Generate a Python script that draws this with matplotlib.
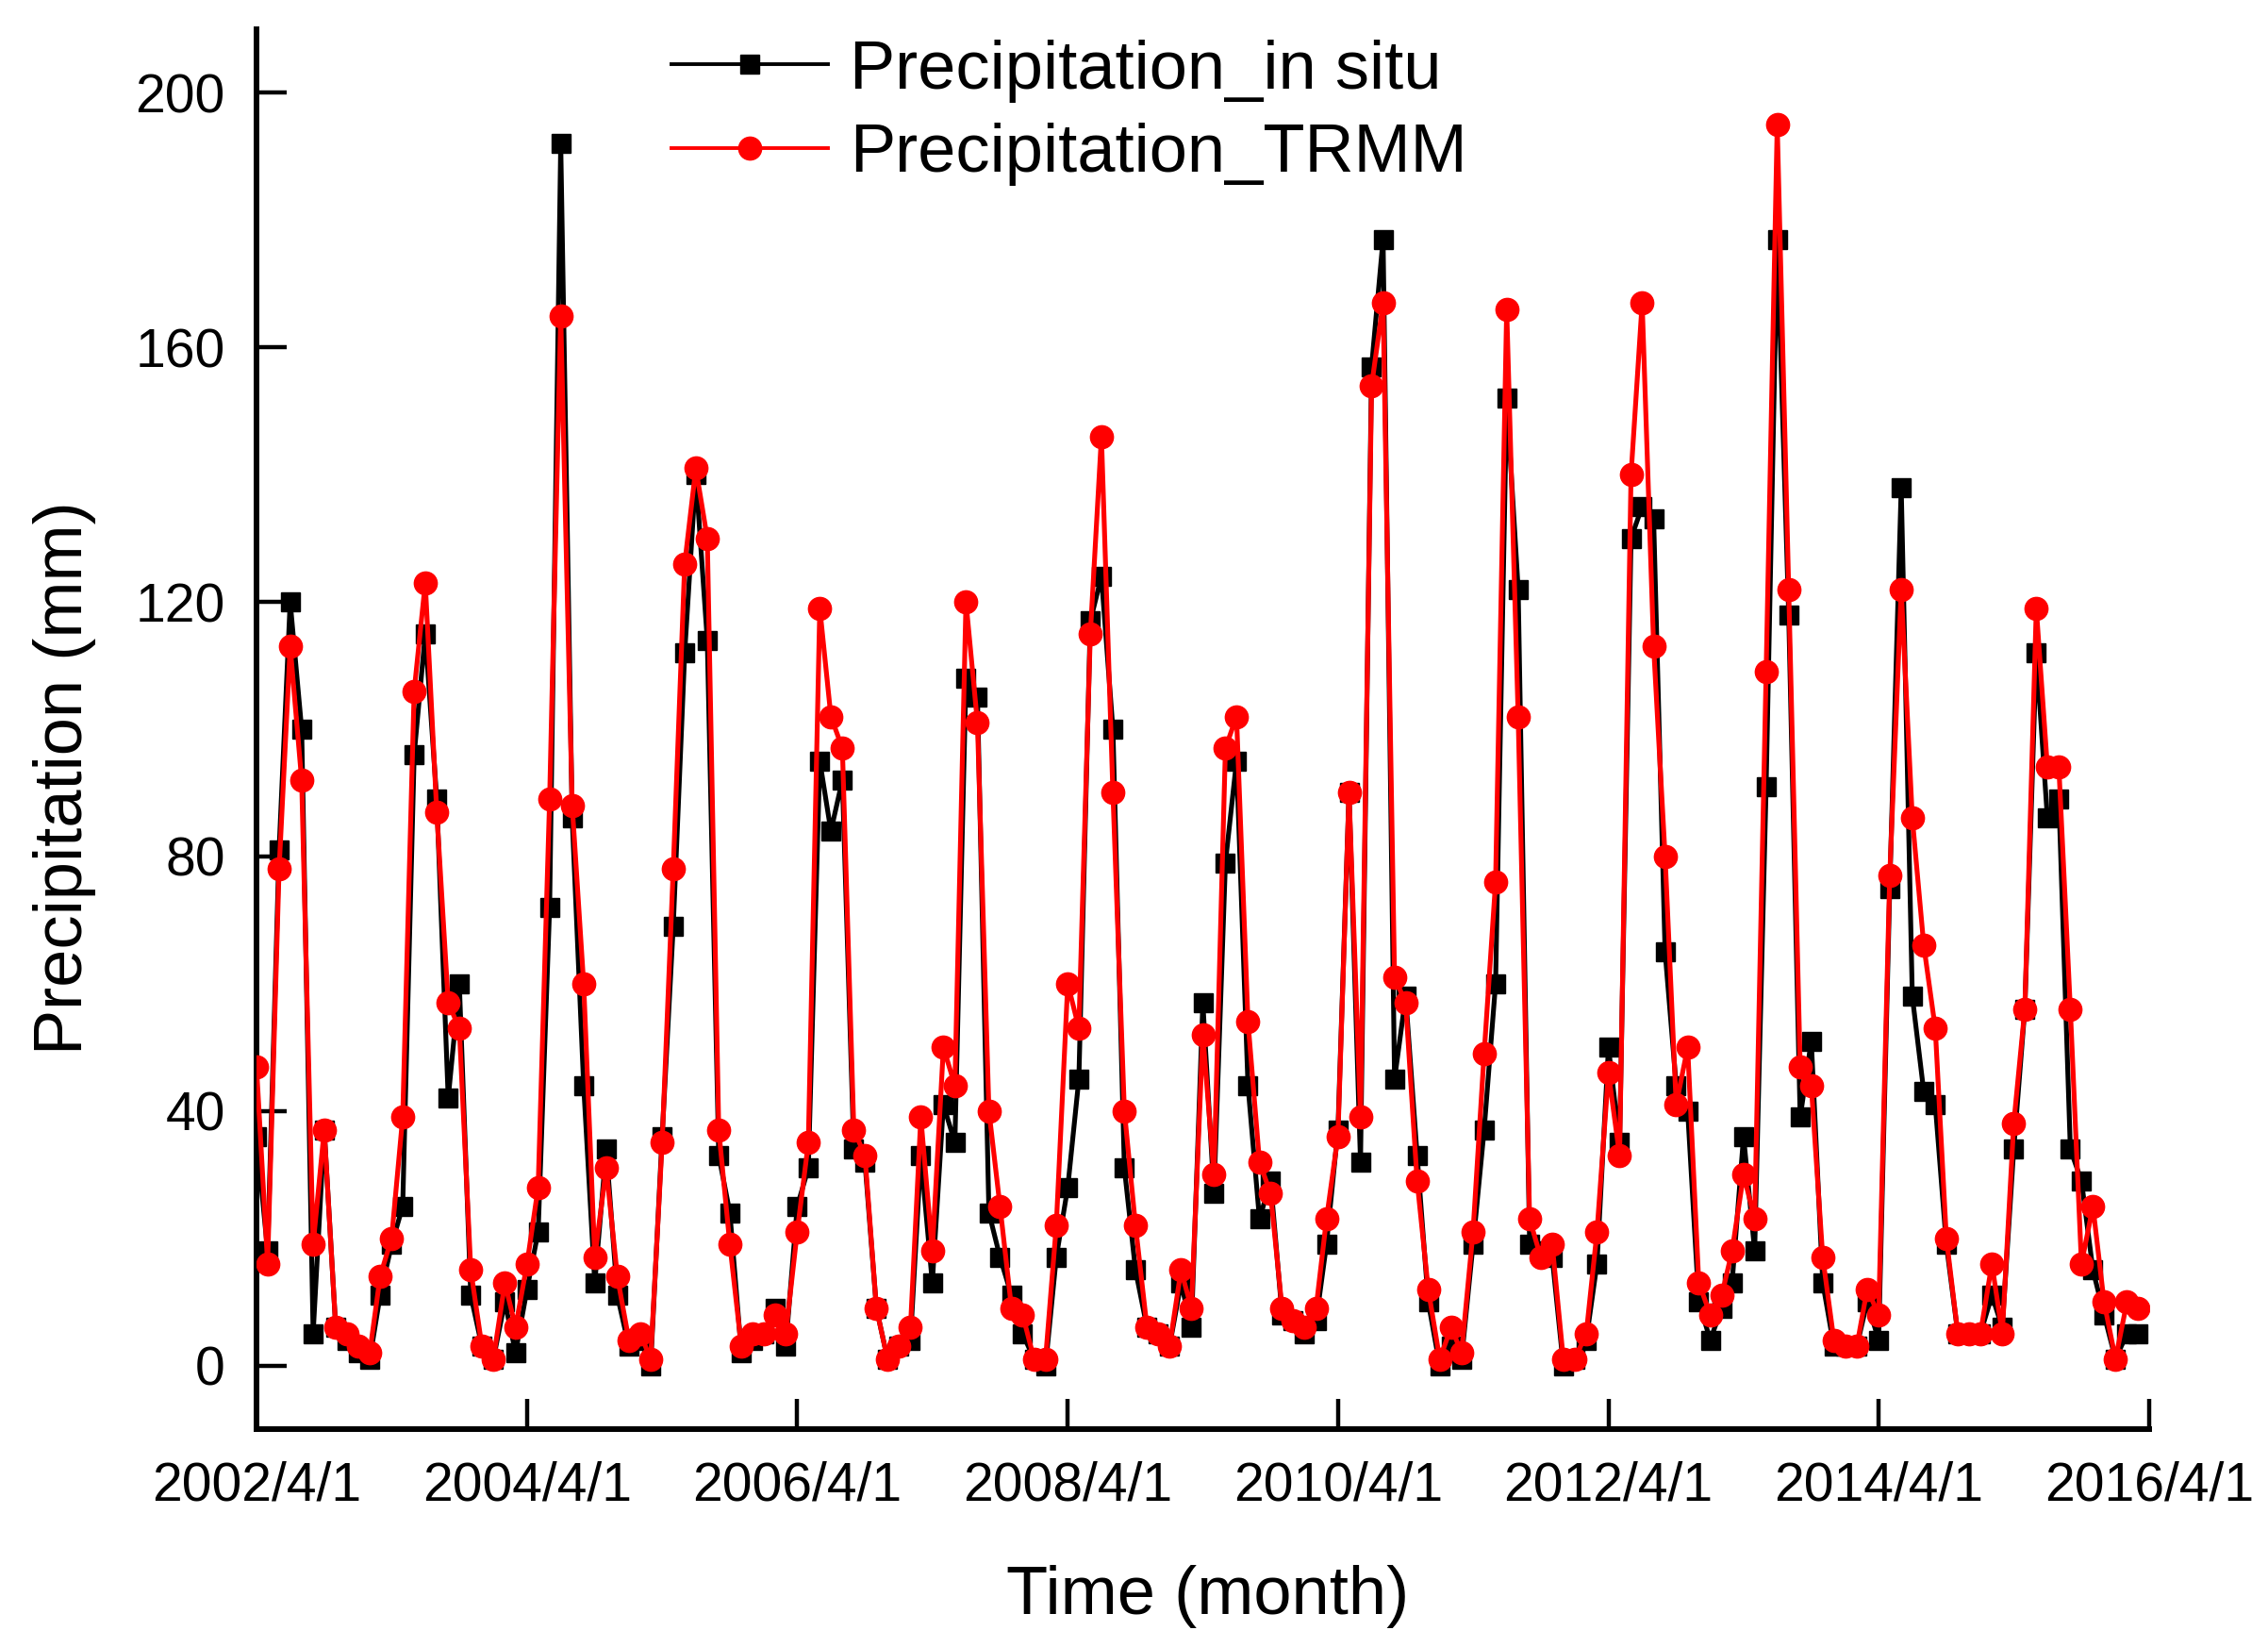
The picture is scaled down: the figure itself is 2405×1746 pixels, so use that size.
import matplotlib
matplotlib.use("Agg")
import matplotlib.pyplot as plt
import matplotlib.dates as mdates
import pandas as pd

plt.rcParams['font.family'] = ['Liberation Sans', 'DejaVu Sans']

# monthly dates, 2002/4 .. 2016/3
months = pd.date_range('2002-04-01', periods=168, freq='MS')

insitu = [
    36, 18, 81, 120, 100, 5, 37, 6, 4, 2, 1, 11,
    19, 25, 96, 115, 89, 42, 60, 11, 3, 1, 10, 2,
    12, 21, 72, 192, 86, 44, 13, 34, 11, 3, 4, 0,
    36, 69, 112, 140, 114, 33, 24, 2, 4, 5, 9, 3,
    25, 31, 95, 84, 92, 34, 32, 9, 1, 3, 4, 33,
    13, 41, 35, 108, 105, 24, 17, 11, 5, 1, 0, 17,
    28, 45, 117, 124, 100, 31, 15, 6, 5, 3, 13, 6,
    57, 27, 79, 95, 44, 23, 29, 8, 7, 5, 7, 19,
    37, 90, 32, 157, 177, 45, 58, 33, 10, 0, 3, 1,
    19, 37, 60, 152, 122, 19, 18, 17, 0, 1, 4, 16,
    50, 35, 130, 135, 133, 65, 44, 40, 10, 4, 9, 13,
    36, 18, 91, 177, 118, 39, 51, 13, 3, 3, 3, 10,
    4, 75, 138, 58, 43, 41, 19, 5, 5, 5, 11, 6,
    34, 56, 112, 86, 89, 34, 29, 15, 8, 1, 5, 5,
]

trmm = [
    47, 16, 78, 113, 92, 19, 37, 6, 5, 3, 2, 14,
    20, 39, 106, 123, 87, 57, 53, 15, 3, 1, 13, 6,
    16, 28, 89, 165, 88, 60, 17, 31, 14, 4, 5, 1,
    35, 78, 126, 141, 130, 37, 19, 3, 5, 5, 8, 5,
    21, 35, 119, 102, 97, 37, 33, 9, 1, 3, 6, 39,
    18, 50, 44, 120, 101, 40, 25, 9, 8, 1, 1, 22,
    60, 53, 115, 146, 90, 40, 22, 6, 5, 3, 15, 9,
    52, 30, 97, 102, 54, 32, 27, 9, 7, 6, 9, 23,
    36, 90, 39, 154, 167, 61, 57, 29, 12, 1, 6, 2,
    21, 49, 76, 166, 102, 23, 17, 19, 1, 1, 5, 21,
    46, 33, 140, 167, 113, 80, 41, 50, 13, 8, 11, 18,
    30, 23, 109, 195, 122, 47, 44, 17, 4, 3, 3, 12,
    8, 77, 122, 86, 66, 53, 20, 5, 5, 5, 16, 5,
    38, 56, 119, 94, 94, 56, 16, 25, 10, 1, 10, 9,
]

series_labels = ['Precipitation_in situ', 'Precipitation_TRMM']
yticks = [0, 40, 80, 120, 160, 200]
xtick_dates = pd.to_datetime(['2002-04-01', '2004-04-01', '2006-04-01', '2008-04-01',
                              '2010-04-01', '2012-04-01', '2014-04-01', '2016-04-01'])

W, H = 2405, 1746
fig = plt.figure(figsize=(W / 100, H / 100), dpi=100)
ax = fig.add_axes([272 / W, 1 - 1515 / H, (2279 - 272) / W, (1515 - 31) / H])

ax.plot(months, insitu, color='black', lw=3.7, marker='s', ms=15,
        mfc='black', mec='black', label=series_labels[0], zorder=3)
ax.plot(months, trmm, color='#ff0000', lw=3.7, marker='o', ms=17.5,
        mfc='#ff0000', mec='#ff0000', label=series_labels[1], zorder=4)

ax.set_xlim(pd.Timestamp('2002-04-01'), pd.Timestamp('2016-04-01'))
ax.set_ylim(-10, 210)
ax.set_yticks(yticks)
ax.set_xticks(xtick_dates)
ax.xaxis.set_major_formatter(plt.FuncFormatter(
    lambda v, p: (lambda d: f"{d.year}/{d.month}/{d.day}")(mdates.num2date(v))))

for s in ['top', 'right']:
    ax.spines[s].set_visible(False)
for s in ['left', 'bottom']:
    ax.spines[s].set_linewidth(4.3)

ax.tick_params(axis='both', direction='in', length=23, width=3.2, labelsize=41, pad=24)

fig.text(69 / W, 1 - 825 / H, 'Precipitation (mm)', rotation=90,
         ha='center', va='center', fontsize=52)
fig.text(1281 / W, 1 - 1692 / H, 'Time (month)', ha='center', va='center', fontsize=52)

leg = ax.legend(loc='center left', bbox_to_anchor=(712 / W, 1 - 119.5 / H),
                bbox_transform=fig.transFigure, frameon=False, fontsize=52,
                handlelength=2.3, handletextpad=0.32, labelspacing=0.3,
                borderpad=0, borderaxespad=0)
for line in leg.get_lines():
    line.set_linewidth(2.8)

fig.savefig('out.png', dpi=100, facecolor='white')
